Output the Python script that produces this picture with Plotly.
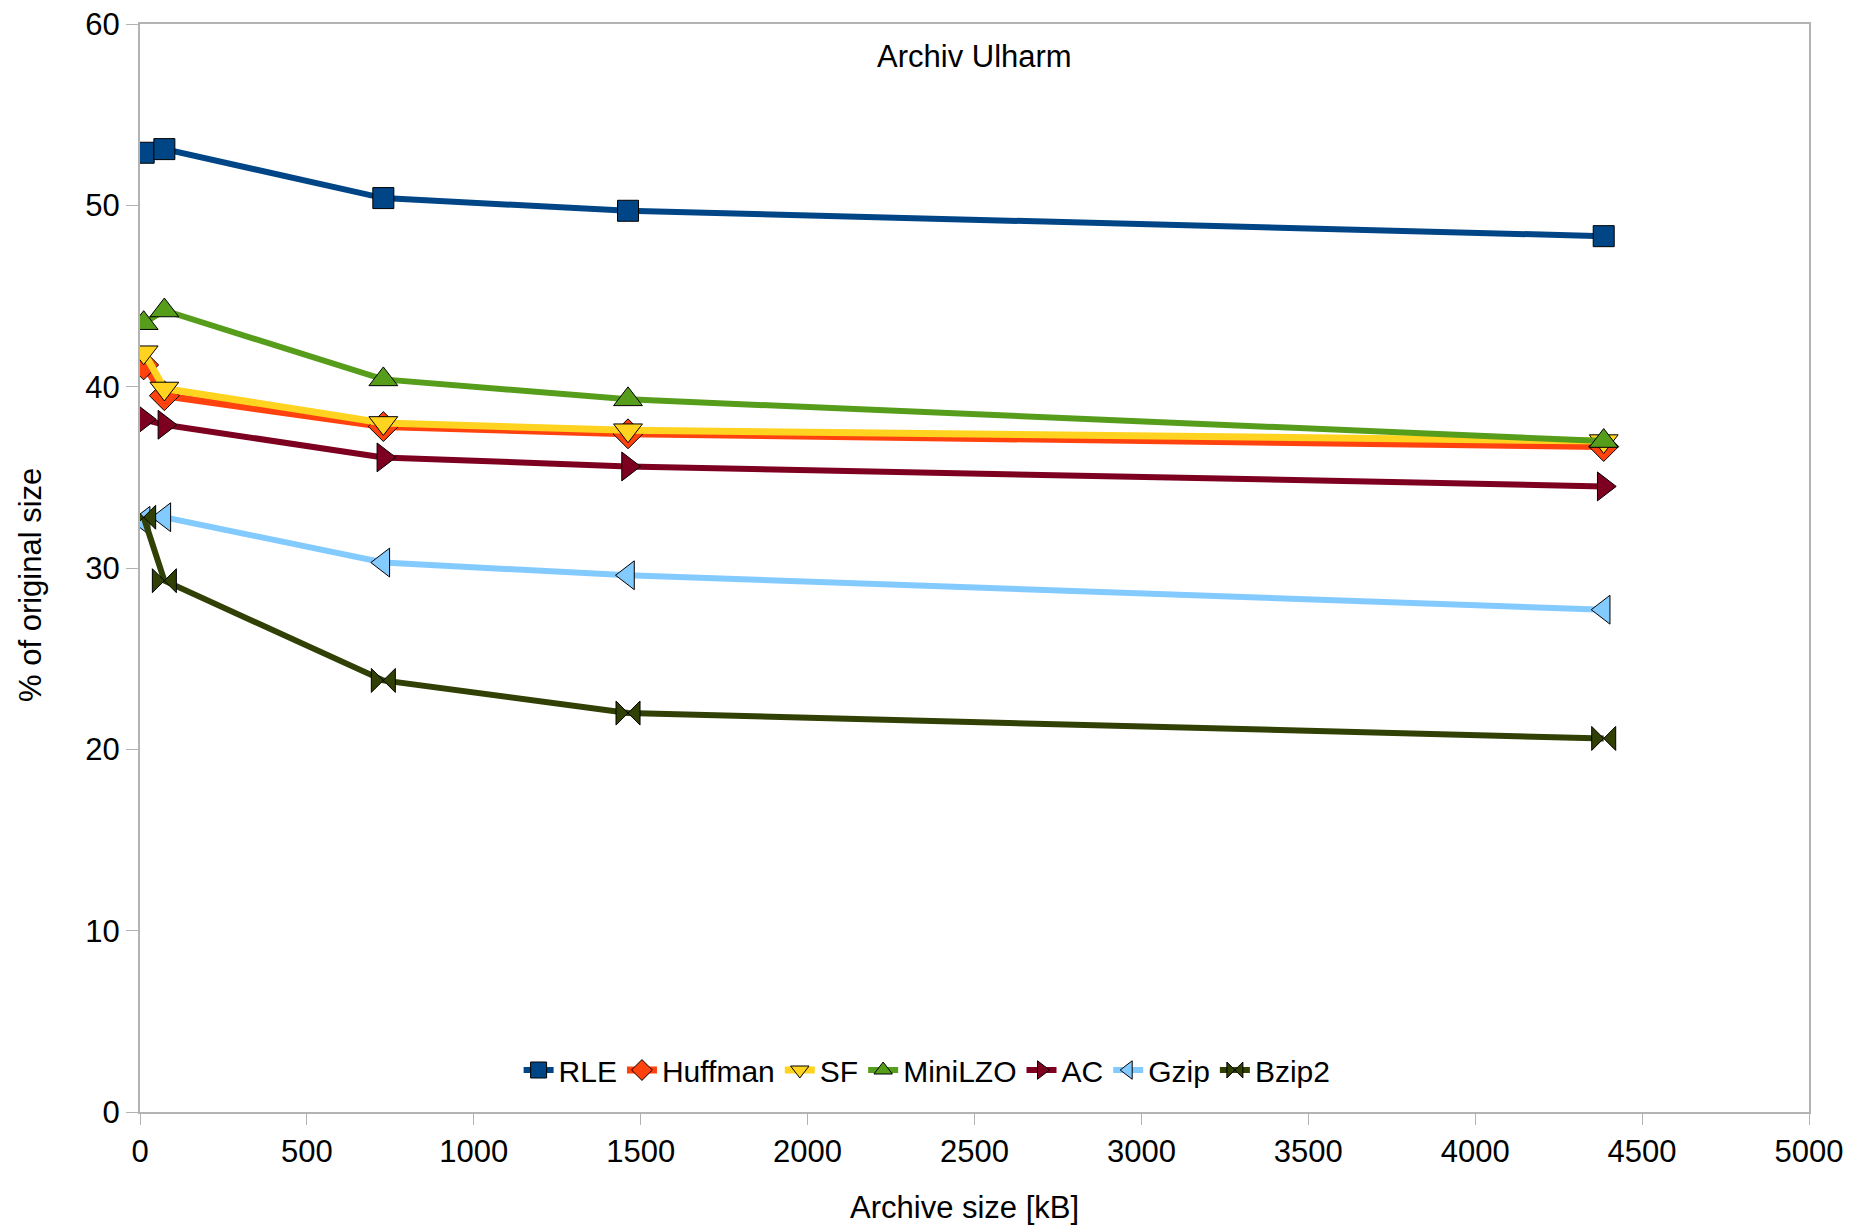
import plotly.graph_objects as go

x_kb = [11, 73, 729, 1462, 4385]

series_names = ["RLE", "Huffman", "SF", "MiniLZO", "AC", "Gzip", "Bzip2"]
rle = [52.9, 53.1, 50.4, 49.7, 48.3]
huffman = [41.2, 39.5, 37.8, 37.4, 36.7]
sf = [41.9, 39.9, 38.0, 37.6, 37.0]
minilzo = [43.5, 44.2, 40.4, 39.3, 37.0]
ac = [38.2, 37.9, 36.1, 35.6, 34.5]
gzip = [32.6, 32.8, 30.3, 29.6, 27.7]
bzip2 = [32.8, 29.3, 23.8, 22.0, 20.6]

x_ticks = [0, 500, 1000, 1500, 2000, 2500, 3000, 3500, 4000, 4500, 5000]
y_ticks = [0, 10, 20, 30, 40, 50, 60]

values = [rle, huffman, sf, minilzo, ac, gzip, bzip2]
colors = ["#004586", "#ff420e", "#ffd320", "#579d1c", "#7e0021", "#83caff", "#314004"]
symbols = ["square", "diamond", "triangle-down", "triangle-up", "triangle-right", "triangle-left", "bowtie"]
widths = [6, 7, 7, 6, 6, 6, 6]
msizes = [21, 23, 25, 25, 25, 25, 24]

FONT = "Liberation Sans, Arial, sans-serif"

fig = go.Figure()
for name, ys, c, s, w, ms in zip(series_names, values, colors, symbols, widths, msizes):
    fig.add_trace(go.Scatter(
        x=x_kb, y=ys, name=name, mode="lines+markers",
        line=dict(color=c, width=w),
        marker=dict(symbol=s, size=ms, color=c, line=dict(color="#000000", width=1)),
    ))

# page body has an 8px margin; compensate so the plot area lands at the reference spot
L, R, T, B = 132, 49, 16, 119
fig.update_layout(
    width=1850, height=1223,
    margin=dict(l=L, r=R, t=T, b=B, autoexpand=False),
    paper_bgcolor="white", plot_bgcolor="white",
    font=dict(family=FONT, size=31, color="#000000"),
    showlegend=True,
    legend=dict(orientation="h", x=0.4716, xanchor="center", y=0.0386, yanchor="middle",
                font=dict(size=30), bgcolor="rgba(0,0,0,0)", itemwidth=30,
                tracegroupgap=0),
    xaxis=dict(range=[0, 5000], tickvals=x_ticks, showgrid=False, zeroline=False,
               showline=True, mirror=True, linecolor="#b3b3b3", linewidth=2,
               ticks="outside", ticklen=11, tickcolor="#b3b3b3", tickwidth=1,
               tickfont=dict(size=31), ticklabeloverflow="allow", automargin=False),
    yaxis=dict(range=[0, 60], tickvals=y_ticks, showgrid=False, zeroline=False,
               showline=True, mirror=True, linecolor="#b3b3b3", linewidth=2,
               ticks="outside", ticklen=12, tickcolor="#b3b3b3", tickwidth=1,
               tickfont=dict(size=31), ticklabeloverflow="allow", automargin=False),
    annotations=[
        dict(text="Archiv Ulharm", xref="paper", yref="paper", x=0.5, y=0.9697,
             xanchor="center", yanchor="middle", showarrow=False, font=dict(size=31)),
        dict(text="Archive size [kB]", xref="paper", yref="paper", x=0.494,
             y=-(1207 - 1112) / 1088, xanchor="center", yanchor="middle",
             showarrow=False, font=dict(size=31)),
        dict(text="% of original size", xref="paper", yref="paper",
             x=-(140 - 30) / 1669, y=(1112 - 585) / 1088, xanchor="center", yanchor="middle",
             textangle=-90, showarrow=False, font=dict(size=31)),
    ],
)

fig.write_html("out.html")
